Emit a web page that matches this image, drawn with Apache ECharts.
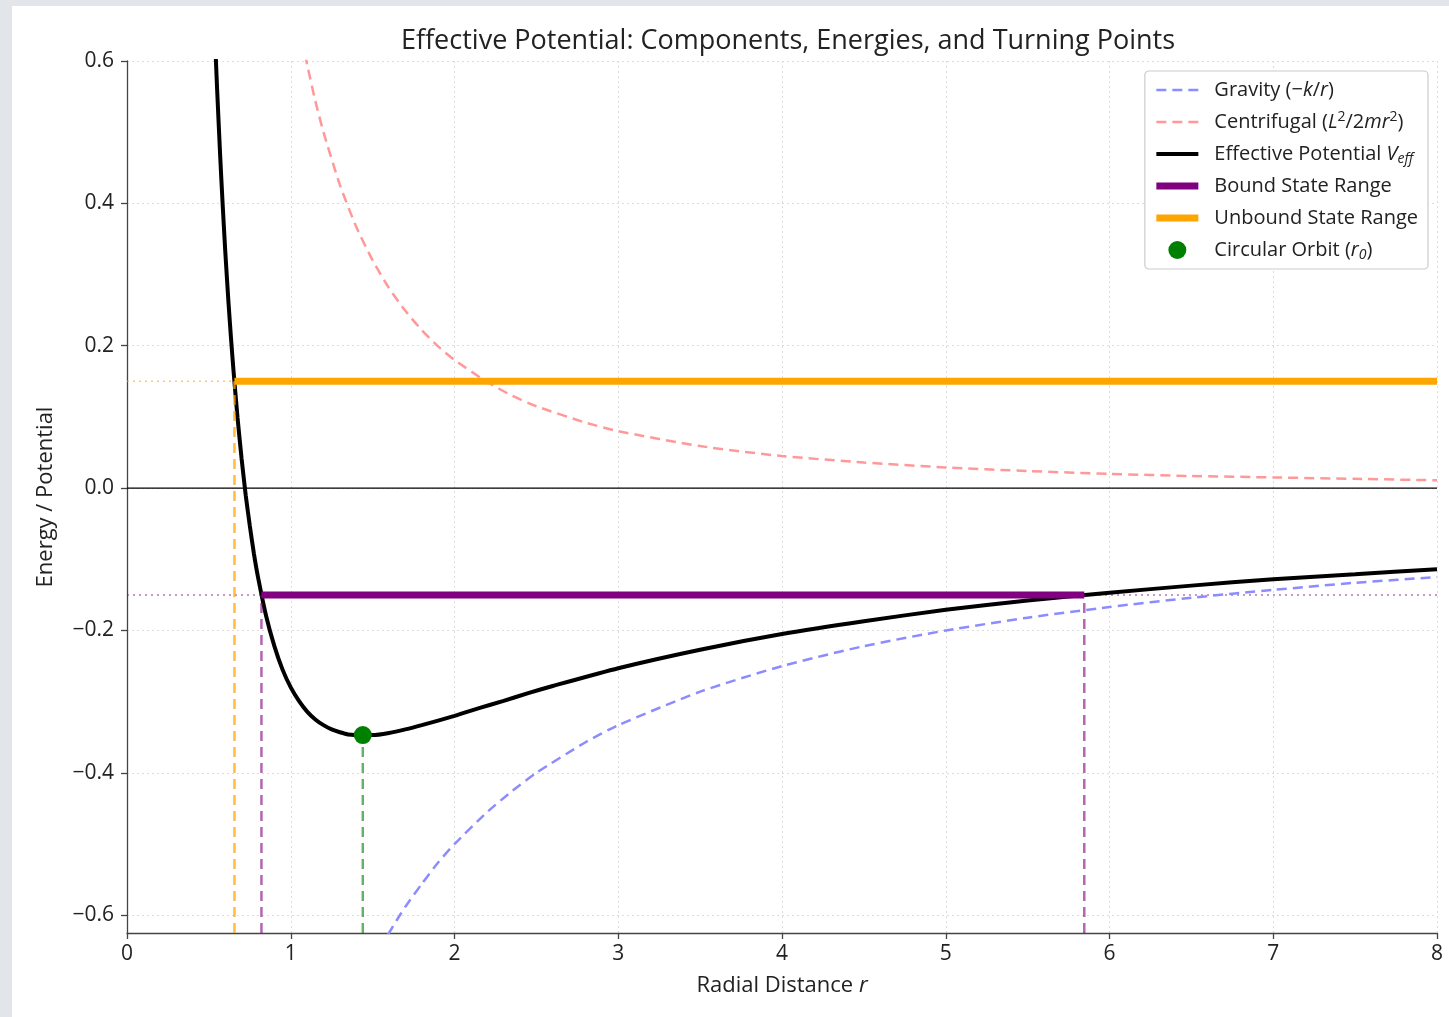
<!DOCTYPE html>
<html>
<head>
<meta charset="utf-8">
<script src="https://cdn.jsdelivr.net/npm/echarts@6/dist/echarts.min.js"></script>
<style>
  body { margin: 0; background: #e2e5ea; }
  #chart { position: absolute; left: 12px; top: 6px; width: 1437px; height: 1011px; background: #fff; }
</style>
</head>
<body>
<div id="chart"></div>
<script>
// radial samples and values
const rEff = [0.50, 0.52, 0.535, 0.55, 0.57, 0.585, 0.60, 0.62, 0.635, 0.65, 0.675, 0.70, 0.725, 0.75, 0.775, 0.80, 0.85, 0.90, 0.95, 1.00, 1.05, 1.10, 1.15, 1.20, 1.25, 1.30, 1.35, 1.44, 1.50, 1.60, 1.70, 1.80, 2.00, 2.15, 2.30, 2.45, 2.60, 3.00, 3.50, 4.00, 4.50, 5.00, 5.50, 6.00, 6.50, 7.00, 7.50, 8.00];
const vEff = [0.880, 0.740, 0.646, 0.562, 0.462, 0.395, 0.333, 0.260, 0.211, 0.166, 0.099, 0.041, -0.010, -0.053, -0.092, -0.125, -0.180, -0.222, -0.255, -0.280, -0.299, -0.314, -0.325, -0.333, -0.339, -0.343, -0.346, -0.347, -0.347, -0.344, -0.339, -0.333, -0.320, -0.309, -0.299, -0.288, -0.278, -0.253, -0.227, -0.205, -0.187, -0.171, -0.158, -0.147, -0.137, -0.128, -0.121, -0.114];

const rCen = [1.00, 1.05, 1.10, 1.15, 1.20, 1.30, 1.40, 1.50, 1.60, 1.70, 1.80, 1.90, 2.00, 2.20, 2.35, 2.50, 2.80, 3.00, 3.50, 4.00, 4.50, 5.00, 5.50, 6.00, 6.50, 7.00, 7.50, 8.00];
const vCen = [0.720, 0.653, 0.595, 0.544, 0.500, 0.426, 0.367, 0.320, 0.281, 0.249, 0.222, 0.199, 0.180, 0.149, 0.130, 0.115, 0.092, 0.080, 0.059, 0.045, 0.036, 0.029, 0.024, 0.020, 0.017, 0.015, 0.013, 0.011];

const rGrav = [1.50, 1.55, 1.60, 1.65, 1.70, 1.80, 1.90, 2.00, 2.20, 2.35, 2.50, 2.80, 3.00, 3.50, 4.00, 4.50, 5.00, 5.50, 6.00, 6.50, 7.00, 7.50, 8.00];
const vGrav = [-0.667, -0.645, -0.625, -0.606, -0.588, -0.556, -0.526, -0.500, -0.455, -0.426, -0.400, -0.357, -0.333, -0.286, -0.250, -0.222, -0.200, -0.182, -0.167, -0.154, -0.143, -0.133, -0.125];

// energies and turning points
const boundE = -0.15;
const unboundE = 0.15;
const boundTurns = [0.821, 5.846];
const unboundTurn = 0.656;
const orbitR = 1.44;
const orbitV = -0.347;

const yTicks = [-0.6, -0.4, -0.2, 0.0, 0.2, 0.4, 0.6];
const xMin = 0, xMax = 8, yMin = -0.625, yMax = 0.6;

const pairs = (xs, ys) => xs.map((x, i) => [x, ys[i]]);
const font = '"Open Sans", sans-serif';
const ink = '#222';

const legendText = {
  'Gravity': 'Gravity (−{i|k}/{i|r})',
  'Centrifugal': 'Centrifugal ({i|L}{sup|2}/2{i|mr}{sup|2})',
  'Effective': 'Effective Potential {i|V}{sub|eff}',
  'Bound State Range': 'Bound State Range',
  'Unbound State Range': 'Unbound State Range',
  'Circular Orbit': 'Circular Orbit ({i|r}{sub|0})'
};

const chart = echarts.init(document.getElementById('chart'));

function guide(data, color, width, type, z) {
  return {
    type: 'line', data: data, symbol: 'none', silent: true, z: z || 2,
    lineStyle: { color: color, width: width, type: type }
  };
}

const noDot = { color: 'rgba(0,0,0,0)', borderColor: 'rgba(0,0,0,0)', borderWidth: 0 };

chart.setOption({
  animation: false,
  textStyle: { fontFamily: font },
  title: {
    text: 'Effective Potential: Components, Energies, and Turning Points',
    left: 771, top: 17, textAlign: 'center',
    textStyle: { fontFamily: font, fontSize: 27, fontWeight: 'normal', color: ink }
  },
  grid: { left: 115, right: 12, top: 55, bottom: 84 },
  legend: {
    orient: 'vertical',
    right: 21, top: 65,
    padding: [7, 10, 7, 8],
    itemGap: 8,
    itemWidth: 42,
    itemHeight: 18,
    backgroundColor: '#fff',
    borderColor: '#ccc',
    borderWidth: 1.2,
    borderRadius: 4,
    data: [
      { name: 'Gravity', lineStyle: { width: 2.5, type: [10, 6] }, itemStyle: noDot },
      { name: 'Centrifugal', lineStyle: { width: 2.5, type: [10, 6] }, itemStyle: noDot },
      { name: 'Effective', lineStyle: { width: 4 }, itemStyle: noDot },
      { name: 'Bound State Range', lineStyle: { width: 7 }, itemStyle: noDot },
      { name: 'Unbound State Range', lineStyle: { width: 7 }, itemStyle: noDot },
      { name: 'Circular Orbit', icon: 'circle' }
    ],
    formatter: (name) => legendText[name],
    textStyle: {
      fontFamily: font, fontSize: 20, color: ink, lineHeight: 24,
      padding: [0, 0, 0, 11],
      rich: {
        i: { fontFamily: font, fontSize: 20, fontStyle: 'italic', color: ink },
        sup: { fontFamily: font, fontSize: 14, lineHeight: 14, verticalAlign: 'top', color: ink },
        sub: { fontFamily: font, fontSize: 14, lineHeight: 14, verticalAlign: 'bottom', fontStyle: 'italic', color: ink }
      }
    }
  },
  xAxis: {
    type: 'value', min: xMin, max: xMax, interval: 1,
    name: 'Radial Distance {i|r}',
    nameLocation: 'middle', nameGap: 42,
    nameTextStyle: {
      fontFamily: font, fontSize: 22, color: ink,
      rich: { i: { fontFamily: font, fontSize: 22, fontStyle: 'italic', color: ink } }
    },
    axisLine: { onZero: false, lineStyle: { color: '#444', width: 1.3 } },
    axisTick: { show: true, length: 6, lineStyle: { color: '#444', width: 1.3 } },
    axisLabel: { margin: 11, fontSize: 21, color: ink, fontFamily: font },
    splitLine: { show: true, lineStyle: { color: '#dcdcdc', type: [2, 3], width: 1 } }
  },
  yAxis: {
    type: 'value', min: yMin, max: yMax,
    name: 'Energy / Potential',
    nameLocation: 'middle', nameGap: 70,
    nameTextStyle: { fontFamily: font, fontSize: 22, color: ink },
    axisLine: { lineStyle: { color: '#444', width: 1.3 } },
    axisTick: { show: true, length: 6, customValues: yTicks, lineStyle: { color: '#444', width: 1.3 } },
    axisLabel: {
      margin: 13, fontSize: 21, color: ink, fontFamily: font,
      customValues: yTicks,
      formatter: (v) => v.toFixed(1).replace('-', '−')
    },
    splitLine: { show: true, lineStyle: { color: '#dcdcdc', type: [2, 3], width: 1 } }
  },
  series: [
    guide([[xMin, 0], [xMax, 0]], '#000', 1.4, 'solid', 2),
    guide([[xMin, unboundE], [unboundTurn, unboundE]], 'rgba(255,165,0,0.6)', 1.5, [2, 4], 2),
    guide([[xMin, boundE], [xMax, boundE]], 'rgba(128,0,128,0.55)', 1.5, [2, 4], 2),
    {
      name: 'Gravity', type: 'line', data: pairs(rGrav, vGrav), symbol: 'none', smooth: 0.2, z: 3,
      lineStyle: { color: '#8c8cff', width: 2.5, type: [10, 6] }, itemStyle: { color: '#8c8cff' }
    },
    {
      name: 'Centrifugal', type: 'line', data: pairs(rCen, vCen), symbol: 'none', smooth: 0.2, z: 3,
      lineStyle: { color: '#ff9999', width: 2.5, type: [10, 6] }, itemStyle: { color: '#ff9999' }
    },
    {
      name: 'Effective', type: 'line', data: pairs(rEff, vEff), symbol: 'none', smooth: 0.2, z: 4,
      lineStyle: { color: '#000', width: 4 }, itemStyle: { color: '#000' }
    },
    {
      name: 'Bound State Range', type: 'line', symbol: 'none', z: 5,
      data: [[boundTurns[0], boundE], [boundTurns[1], boundE]],
      lineStyle: { color: '#800080', width: 7 }, itemStyle: { color: '#800080' }
    },
    {
      name: 'Unbound State Range', type: 'line', symbol: 'none', z: 5,
      data: [[unboundTurn, unboundE], [xMax, unboundE]],
      lineStyle: { color: '#ffa500', width: 7 }, itemStyle: { color: '#ffa500' }
    },
    guide([[unboundTurn, yMin], [unboundTurn, unboundE]], 'rgba(255,165,0,0.75)', 2.5, [10, 6], 6),
    guide([[boundTurns[0], yMin], [boundTurns[0], boundE]], 'rgba(128,0,128,0.6)', 2.5, [10, 6], 6),
    guide([[boundTurns[1], yMin], [boundTurns[1], boundE]], 'rgba(128,0,128,0.6)', 2.5, [10, 6], 6),
    guide([[orbitR, yMin], [orbitR, orbitV]], 'rgba(0,128,0,0.6)', 2.5, [10, 6], 6),
    {
      name: 'Circular Orbit', type: 'scatter', data: [[orbitR, orbitV]], symbolSize: 18, z: 7,
      itemStyle: { color: '#008000', opacity: 1 }
    }
  ]
});
window.addEventListener('resize', function() {
  chart.resize();
});
</script>
</body>
</html>
